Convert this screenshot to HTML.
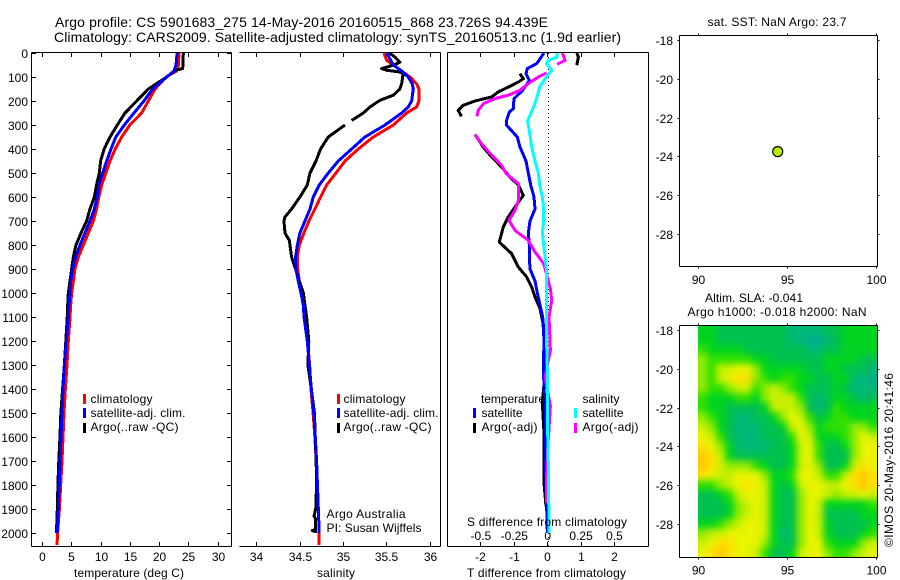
<!DOCTYPE html>
<html lang="en">
<head>
<meta charset="utf-8">
<title>Argo profile CS 5901683_275</title>
<style>
html,body{margin:0;padding:0;background:#fff;}
#chart{display:block;width:900px;height:580px;}
text{font-family:"Liberation Sans",sans-serif;font-size:12px;fill:#000;}
.title{font-size:14px;}
</style>
</head>
<body>
<svg id="chart" xmlns="http://www.w3.org/2000/svg" width="900" height="580" viewBox="0 0 900 580">
  <defs>
    <clipPath id="heat-clip"><rect x="698" y="325" width="179.5" height="232.5"/></clipPath>
    <filter id="heat-blur" filterUnits="userSpaceOnUse" x="650" y="290" width="260" height="300" color-interpolation-filters="sRGB"><feGaussianBlur stdDeviation="3.5"/></filter>
  </defs>
  <text class="title" x="55" y="27" textLength="493" lengthAdjust="spacing">Argo profile: CS 5901683_275 14-May-2016 20160515_868 23.726S 94.439E</text>
  <text class="title" x="54" y="42" textLength="567" lengthAdjust="spacing">Climatology: CARS2009. Satellite-adjusted climatology: synTS_20160513.nc (1.9d earlier)</text>

  <g id="panel-t"></g>
  <g id="panel-s"></g>
  <g id="panel-d"></g>
  <g id="map-sst"></g>
  <g id="map-sla"></g>

  <text x="74" y="577" textLength="110" lengthAdjust="spacing">temperature (deg C)</text>
  <text x="317" y="577" textLength="38" lengthAdjust="spacing">salinity</text>
  <text x="467" y="577" textLength="159" lengthAdjust="spacing">T difference from climatology</text>
  <text x="467" y="526" textLength="160" lengthAdjust="spacing">S difference from climatology</text>

  <g>
    <rect x="83" y="394" width="3" height="10" fill="#f00"/>
    <rect x="83" y="408" width="3" height="10" fill="#00f"/>
    <rect x="83" y="423" width="3" height="10" fill="#000"/>
    <text x="90.5" y="403" textLength="62" lengthAdjust="spacing">climatology</text>
    <text x="90.5" y="417" textLength="95" lengthAdjust="spacing">satellite-adj. clim.</text>
    <text x="90.5" y="431" textLength="88" lengthAdjust="spacing">Argo(..raw -QC)</text>
  </g>
  <g>
    <rect x="337" y="394" width="3" height="10" fill="#f00"/>
    <rect x="337" y="408" width="3" height="10" fill="#00f"/>
    <rect x="337" y="423" width="3" height="10" fill="#000"/>
    <text x="343.5" y="403" textLength="62" lengthAdjust="spacing">climatology</text>
    <text x="343.5" y="417" textLength="95" lengthAdjust="spacing">satellite-adj. clim.</text>
    <text x="343.5" y="431" textLength="88" lengthAdjust="spacing">Argo(..raw -QC)</text>
    <text x="326.5" y="518" textLength="79" lengthAdjust="spacing">Argo Australia</text>
    <text x="326.5" y="532" textLength="95" lengthAdjust="spacing">PI: Susan Wijffels</text>
  </g>
  <g>
    <text x="481" y="403" textLength="64" lengthAdjust="spacing">temperature</text>
    <rect x="473" y="408" width="3" height="10" fill="#00f"/>
    <rect x="473" y="423" width="3" height="10" fill="#000"/>
    <text x="481.5" y="417" textLength="41" lengthAdjust="spacing">satellite</text>
    <text x="481.5" y="431" textLength="56" lengthAdjust="spacing">Argo(-adj)</text>
    <text x="582.5" y="403" textLength="37" lengthAdjust="spacing">salinity</text>
    <rect x="574" y="408" width="3" height="10" fill="#0ff"/>
    <rect x="574" y="423" width="3" height="10" fill="#f0f"/>
    <text x="582.5" y="417" textLength="41" lengthAdjust="spacing">satellite</text>
    <text x="582.5" y="431" textLength="56" lengthAdjust="spacing">Argo(-adj)</text>
  </g>

  <text x="707.5" y="26" textLength="139" lengthAdjust="spacing">sat. SST: NaN Argo: 23.7</text>
  <text x="705" y="302" textLength="98" lengthAdjust="spacing">Altim. SLA: -0.041</text>
  <text x="687.5" y="316" textLength="179" lengthAdjust="spacing">Argo h1000: -0.018 h2000: NaN</text>
  <text transform="translate(893,547) rotate(-90)" x="0" y="0" textLength="174" lengthAdjust="spacing">©IMOS 20-May-2016 20:41:46</text>
</svg>

<script>
// ---------- depth levels ----------
const climTempDepths = [0,50,75,100,150,200,250,300,350,400,450,500,550,600,650,700,750,800,850,900,950,1000,1050,1100,1200,1300,1400,1500,1600,1700,1800,1900,2000,2050];
const satTempDepths = [0,50,75,100,150,200,250,300,350,400,450,500,550,600,650,700,750,800,850,900,950,1000,1050,1100,1200,1300,1400,1500,1600,1700,1800,1900,2000];
const argoTempDepths = [0,65,72,100,150,200,250,300,350,400,450,500,550,600,650,700,750,800,850,900,950,1000,1050,1100,1200,1300,1400,1500,1600,1700,1800,1900,2000];
const climSalDepths = [0,30,50,75,100,128,150,200,225,250,300,350,400,450,500,550,600,650,700,750,800,850,900,950,1000,1050,1100,1200,1300,1400,1500,1600,1700,1800,1900,2000,2050];
const satSalDepths = [0,30,50,75,100,128,150,200,225,250,300,350,400,450,500,550,600,650,700,750,800,850,900,950,1000,1050,1100,1200,1300,1400,1500,1600,1700,1800,1900,2000];
const argoSalDepths = [0,17,38,51,65,72,79,86,100,128,150,176,197,225,250,281,285,300,350,400,450,500,550,600,650,683,700,750,781,850,900,950,1000,1050,1100,1200,1300,1400,1500,1600,1700,1800,1900,1930,1940,1985,1990,1995,2000];

// ---------- temperature (deg C) ----------
const climTemp = [23.3,23.2,22.9,21.1,19.2,18.06,16.9,14.9,13.5,12.4,11.5,10.8,10.08,9.6,9.2,8.65,7.8,6.95,6.1,5.5,5.25,4.95,4.78,4.67,4.38,4.15,3.87,3.64,3.47,3.3,3.07,2.85,2.55,2.45];
const satTemp = [22.96,22.8,22.44,21.2,18.8,17.3,15.6,13.95,12.5,11.68,10.93,10.25,9.6,9.34,8.83,8.08,7.23,6.38,5.64,5.12,4.78,4.67,4.5,4.38,4.04,3.7,3.47,3.3,3.13,2.96,2.84,2.67,2.5];
const argoTemp = [24.04,23.93,22.6,21.2,18.06,16.06,14.07,12.76,11.5,10.5,9.9,9.68,9.2,8.83,8.08,7.5,6.55,5.69,5.24,4.95,4.67,4.38,4.27,4.2,3.95,3.7,3.4,3.1,2.95,2.75,2.6,2.5,2.35];

// ---------- salinity ----------
const climSal = [35.466,35.497,35.574,35.67,35.765,35.842,35.869,35.869,35.842,35.727,35.574,35.343,35.17,35.017,34.913,34.806,34.736,34.671,34.602,34.544,34.491,34.468,34.472,34.491,34.518,34.537,34.55,34.585,34.61,34.625,34.65,34.67,34.685,34.7,34.71,34.72,34.72];
const satSal = [35.497,35.543,35.574,35.67,35.746,35.792,35.804,35.785,35.746,35.67,35.478,35.247,35.094,34.94,34.825,34.721,34.652,34.614,34.556,34.498,34.468,34.448,34.452,34.479,34.51,34.537,34.545,34.583,34.606,34.63,34.657,34.675,34.69,34.7,34.71,34.72];
const argoSal = [35.528,35.593,35.65,35.574,35.439,35.497,35.65,35.689,35.681,35.67,35.65,35.574,35.42,35.305,35.228,35.094,null,35.017,34.825,34.736,34.683,34.614,34.583,34.498,34.402,34.326,34.314,34.326,34.376,34.402,34.448,34.491,34.537,34.556,34.575,34.6,34.59,34.63,34.665,34.675,34.685,34.69,34.68,34.66,34.68,34.68,34.64,34.68,34.68];

// ---------- differences from climatology ----------
const diffSatTDepths = [0,44,65,86,114,156,190,232,246,281,301,350,392,450,500,550,600,650,700,750,800,850,900,950,1000,1050,1100,1200,1300,1400,1500,1600,1700,1800,1900,2000];
const diffSatT = [-0.11,-0.33,-0.61,-0.65,-0.55,-0.75,-1.01,-1.03,-1.15,-1.23,-1.23,-0.91,-0.83,-0.65,-0.58,-0.51,-0.41,-0.38,-0.53,-0.58,-0.55,-0.55,-0.53,-0.38,-0.31,-0.23,-0.15,-0.11,-0.13,-0.11,-0.07,-0.07,-0.07,-0.05,-0.03,-0.01];
const diffArgoTDepths = [0,17,51,60,86,107,121,142,162,183,200,218,239,264,300,339,392,433,475,517,550,593,628,683,725,788,836,892,933,975,1017,1065,1100,1160,1270,1376,1460,1585,1793,1890];
const diffArgoT = [0.87,0.92,0.87,null,-0.83,-0.73,-0.88,-1.18,-1.48,-1.68,-2.18,-2.53,-2.68,-2.58,null,-2.18,-1.93,-1.68,-1.38,-1.13,-0.88,-0.73,-0.91,-1.18,-1.33,-1.45,-1.08,-0.88,-0.63,-0.48,-0.38,-0.23,-0.18,-0.08,-0.06,-0.11,-0.16,-0.11,-0.11,-0.05];
const diffSatSDepths = [0,17,31,44,72,100,142,183,232,281,301,350,392,450,500,550,600,650,700,750,800,850,900,950,1000,1050,1170,1376,1585,1723,2000];
const diffSatS = [0.07,0.07,0.005,-0.01,0.03,-0.01,-0.06,-0.08,-0.11,-0.15,-0.145,-0.13,-0.12,-0.095,-0.07,-0.06,-0.04,-0.03,-0.03,-0.04,-0.03,-0.02,-0.01,-0.01,-0.01,-0.01,-0.01,0,0,0.005,0.01];
const diffArgoSDepths = [0,31,47,65,83,97,121,156,176,190,211,239,264,300,339,378,419,468,503,544,614,656,697,739,781,829,878,919,982,1031,1100,1240,1350,1470,1650,1790,1875];
const diffArgoS = [0.11,0.13,0.07,null,-0.01,-0.06,-0.13,-0.21,-0.295,-0.395,-0.48,-0.52,-0.53,null,-0.545,-0.495,-0.43,-0.345,-0.31,-0.22,-0.22,-0.245,-0.29,-0.245,-0.145,-0.095,-0.03,-0.01,0.02,0.03,0.01,0.02,-0.02,0.02,0,-0.01,-0.01];

// ---------- tick labels ----------
const depthTicks = [0,100,200,300,400,500,600,700,800,900,1000,1100,1200,1300,1400,1500,1600,1700,1800,1900,2000];
const tempTicks = [0,5,10,15,20,25,30];
const salTicks = [34,34.5,35,35.5,36];
const diffTTicks = [-2,-1,0,1,2];
const diffSTicks = [-0.5,-0.25,0,0.25,0.5];
const lonTicks = [90,95,100];
const latTicks = [-18,-20,-22,-24,-26,-28];

// ---------- map data ----------
const floatLon = 94.439;
const floatLat = -23.726;
const slaLevels = [
[3,3,2,2,2,2,2,2,2,2,1,1,1,1,2,2,3,3,3,3],
[3,3,2,2,2,2,2,2,2,2,1,1,0,0,1,2,3,3,3,3],
[4,3,3,3,3,2,2,2,2,2,2,2,1,1,2,2,3,3,3,3],
[5,4,4,4,4,4,3,3,2,2,2,2,2,2,3,3,3,3,2,2],
[5,4,6,6,7,7,5,3,3,3,3,3,2,2,3,3,2,2,2,1],
[5,4,6,7,8,8,5,4,3,4,4,3,3,2,2,3,3,1,1,0],
[5,4,4,5,6,6,4,5,6,5,4,3,2,2,2,3,2,1,1,1],
[4,3,3,3,4,4,3,5,6,6,6,4,2,1,2,3,3,2,1,2],
[4,3,3,2,2,2,2,3,6,6,6,5,2,1,2,4,3,3,3,3],
[5,4,3,2,1,1,2,2,3,5,7,6,4,2,3,4,4,3,3,3],
[6,5,3,2,1,1,1,2,2,3,6,7,5,3,4,4,4,5,5,4],
[7,6,4,2,1,1,1,2,2,2,4,7,6,3,3,3,4,5,7,6],
[8,7,5,3,1,1,1,1,2,2,3,6,7,4,2,2,3,5,7,7],
[9,8,6,3,2,2,2,2,2,2,3,6,7,4,2,2,2,5,7,7],
[9,8,6,5,5,5,4,3,2,2,3,6,7,5,2,2,3,6,8,7],
[8,7,6,6,7,7,7,5,3,3,4,7,7,6,4,4,6,8,9,8],
[4,4,5,6,7,8,7,6,3,2,3,6,7,7,6,6,7,8,9,8],
[2,2,3,4,6,7,7,6,3,2,2,5,7,7,6,5,6,6,7,6],
[2,2,2,3,5,6,7,6,3,2,2,5,7,6,3,3,3,3,3,4],
[2,2,2,3,5,6,7,6,3,2,2,5,7,6,2,2,2,2,3,3],
[3,3,4,5,6,7,7,6,3,2,2,5,7,6,3,2,2,2,2,3],
[5,6,6,7,7,7,7,6,3,1,2,5,7,6,3,2,2,2,3,4],
[6,7,8,8,7,7,7,5,3,2,2,5,7,7,4,3,3,3,5,6],
[7,8,9,8,7,7,6,4,2,2,3,6,7,7,5,4,4,5,6,7]
];
const slaPalette = ['#00ae8c','#00b878','#00c050','#00d420','#30e000','#90ea00','#c8f000','#e8f400','#ffe000','#ffc800'];

// ---------- axis functions ----------
const yDepth = d => 53 + d * 0.24;
const xTemp = v => 42.7 + v * 5.85;
const xSal = v => 256.7 + (v - 34) * 86.8;
const xDiffT = v => 547.7 + v * 33.4;
const xDiffS = v => 547.7 + v * 133.6;
const xLonTop = v => 698.7 + (v - 90) * 17.8;
const yLatTop = v => 40.7 + (-18 - v) * 19.37;
const xLonBot = v => 698.3 + (v - 90) * 17.84;
const yLatBot = v => 330.6 + (-18 - v) * 19.37;

const NS = 'http://www.w3.org/2000/svg';
function make(tag, attrs, parent) {
  const n = document.createElementNS(NS, tag);
  for (const k in attrs) n.setAttribute(k, attrs[k]);
  parent.appendChild(n);
  return n;
}
function drawTick(parent, x1, y1, x2, y2) {
  const el = make('line', {x1: x1, y1: y1, x2: x2, y2: y2, stroke: '#000', 'stroke-width': 1, 'shape-rendering': 'crispEdges'}, parent);
  
  
}
function drawLabel(parent, x, y, anchor, value) {
  const el = make('text', {x: x, y: y, 'text-anchor': anchor}, parent);
  el.textContent = String(value);
  
  
}
function drawSpine(parent, x1, y1, x2, y2) {
  const el = make('line', {x1: x1, y1: y1, x2: x2, y2: y2, stroke: '#000', 'stroke-width': 1, 'shape-rendering': 'crispEdges'}, parent);
  
  
}
function profilePath(depths, values, xFn) {
  let d = '', pen = false;
  values.forEach((v, i) => {
    if (v === null) { pen = false; return; }
    d += (pen ? 'L' : 'M') + xFn(v).toFixed(2) + ' ' + yDepth(depths[i]).toFixed(2);
    pen = true;
  });
  return d;
}
function drawProfile(parent, depths, values, xFn, color, width, name) {
  const el = make('path', {d: profilePath(depths, values, xFn), fill: 'none', stroke: color, 'stroke-width': width, 'stroke-linejoin': 'round', 'shape-rendering': 'crispEdges'}, parent);
  
  
}

const TOP = 52.5, BOT = 546.5;

// ---------- temperature panel ----------
const pt = document.getElementById('panel-t');
drawSpine(pt, 31.5, TOP, 231.5, TOP);
drawSpine(pt, 31.5, BOT, 231.5, BOT);
drawSpine(pt, 31.5, TOP, 31.5, BOT);
drawSpine(pt, 231.5, TOP, 231.5, BOT);
depthTicks.forEach(d => {
  const y = Math.floor(yDepth(d)) + 0.5;
  drawTick(pt, 31.5, y, 36, y);
  drawTick(pt, 227, y, 231.5, y);
  drawLabel(pt, 28, y + 4.5, 'end', d);
});
tempTicks.forEach(v => {
  const x = Math.floor(xTemp(v)) + 0.5;
  drawTick(pt, x, TOP, x, TOP + 4.5);
  drawTick(pt, x, BOT - 4.5, x, BOT);
  drawLabel(pt, x, 561, 'middle', v);
});
drawProfile(pt, climTempDepths, climTemp, xTemp, '#f00', 3, 'temperature-climatology-line');
drawProfile(pt, argoTempDepths, argoTemp, xTemp, '#000', 3, 'temperature-argo-line');
drawProfile(pt, satTempDepths, satTemp, xTemp, '#00f', 3, 'temperature-satellite-line');

// ---------- salinity panel ----------
const ps = document.getElementById('panel-s');
drawSpine(ps, 239.5, TOP, 440.5, TOP);
drawSpine(ps, 239.5, BOT, 440.5, BOT);
drawSpine(ps, 440.5, TOP, 440.5, BOT);
salTicks.forEach(v => {
  const x = Math.floor(xSal(v)) + 0.5;
  drawTick(ps, x, TOP, x, TOP + 4.5);
  drawTick(ps, x, BOT - 4.5, x, BOT);
  drawLabel(ps, x, 561, 'middle', v);
});
drawProfile(ps, climSalDepths, climSal, xSal, '#f00', 3, 'salinity-climatology-line');
drawProfile(ps, argoSalDepths, argoSal, xSal, '#000', 3, 'salinity-argo-line');
drawProfile(ps, satSalDepths, satSal, xSal, '#00f', 3, 'salinity-satellite-line');

// ---------- difference panel ----------
const pd = document.getElementById('panel-d');
drawSpine(pd, 447.5, TOP, 648.5, TOP);
drawSpine(pd, 447.5, BOT, 648.5, BOT);
drawSpine(pd, 447.5, TOP, 447.5, BOT);
drawSpine(pd, 648.5, TOP, 648.5, BOT);
diffTTicks.forEach(v => {
  const x = Math.floor(xDiffT(v)) + 0.5;
  drawTick(pd, x, TOP, x, TOP + 4.5);
  drawTick(pd, x, BOT - 4.5, x, BOT);
  drawLabel(pd, x, 561, 'middle', v);
});
diffSTicks.forEach(v => {
  drawLabel(pd, xDiffS(v), 540, 'middle', v);
});
const zeroLine = make('line', {x1: 548.5, y1: 53, x2: 548.5, y2: 546, stroke: '#000', 'stroke-width': 1, 'stroke-dasharray': '1 3', 'shape-rendering': 'crispEdges'}, pd);


drawProfile(pd, diffArgoTDepths, diffArgoT, xDiffT, '#000', 3, 'difference-t-argo-line');
drawProfile(pd, diffSatTDepths, diffSatT, xDiffT, '#00f', 3, 'difference-t-satellite-line');
drawProfile(pd, diffArgoSDepths, diffArgoS, xDiffS, '#f0f', 3, 'difference-s-argo-line');
drawProfile(pd, diffSatSDepths, diffSatS, xDiffS, '#0ff', 3, 'difference-s-satellite-line');

// ---------- map frames ----------
function drawMapFrame(parent, top, bottom, xFn, yFn, labelBase) {
  drawSpine(parent, 679.5, top, 877.5, top);
  drawSpine(parent, 679.5, bottom, 877.5, bottom);
  drawSpine(parent, 679.5, top, 679.5, bottom);
  drawSpine(parent, 877.5, top, 877.5, bottom);
  lonTicks.forEach(v => {
    const x = Math.floor(xFn(v)) + 0.5;
    drawTick(parent, x, top - 2, x, top);
    drawTick(parent, x, bottom, x, bottom + 2);
    drawLabel(parent, x, labelBase, 'middle', v);
  });
  latTicks.forEach(v => {
    const y = Math.floor(yFn(v)) + 0.5;
    drawTick(parent, 677.5, y, 679.5, y);
    drawTick(parent, 877.5, y, 879.5, y);
    drawLabel(parent, 673, y + 4.5, 'end', v);
  });
}

const ms = document.getElementById('map-sst');
drawMapFrame(ms, 35.5, 266.5, xLonTop, yLatTop, 284);
const marker = make('circle', {cx: xLonTop(floatLon), cy: yLatTop(floatLat), r: 5, fill: '#b4f000', stroke: '#000', 'stroke-width': 1.2}, ms);



// ---------- SLA heat map ----------
const mh = document.getElementById('map-sla');
const clipGroup = make('g', {'clip-path': 'url(#heat-clip)'}, mh);


const blurGroup = make('g', {filter: 'url(#heat-blur)'}, clipGroup);


const nRows = slaLevels.length, nCols = slaLevels[0].length;
const lonStep = 10 / nCols, latStep = 12 / nRows, latStart = -17.72;
for (let r = -3; r < nRows + 3; r++) {
  for (let c = -3; c < nCols + 3; c++) {
    const rr = Math.max(0, Math.min(nRows - 1, r));
    const cc = Math.max(0, Math.min(nCols - 1, c));
    const x0 = xLonBot(90 + c * lonStep), x1 = xLonBot(90 + (c + 1) * lonStep);
    const y0 = yLatBot(latStart - r * latStep), y1 = yLatBot(latStart - (r + 1) * latStep);
    const cell = make('rect', {x: x0, y: y0, width: x1 - x0 + 0.5, height: y1 - y0 + 0.5, fill: slaPalette[slaLevels[rr][cc]]}, blurGroup);
    
    
  }
}
drawMapFrame(mh, 325.5, 557.5, xLonBot, yLatBot, 574.5);
</script>
</body>
</html>
